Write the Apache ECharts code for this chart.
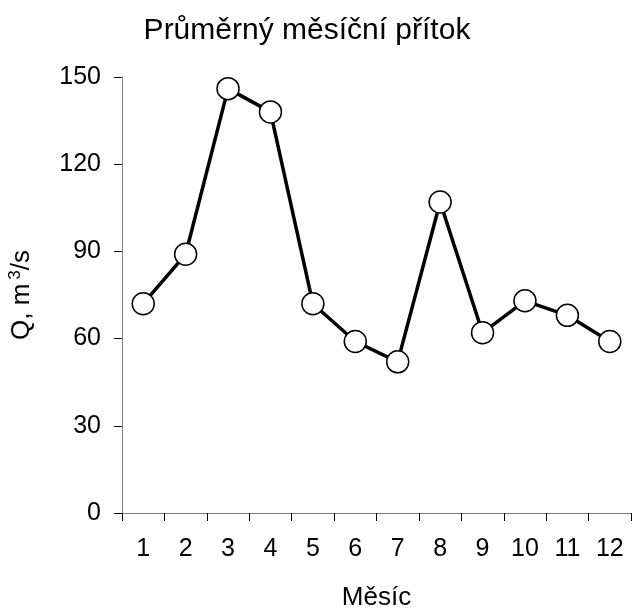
<!DOCTYPE html>
<html>
<head>
<meta charset="utf-8">
<script src="https://cdn.jsdelivr.net/npm/echarts@6/dist/echarts.min.js"></script>
<style>
  html, body { margin: 0; padding: 0; background: #fff; }
  #chart { width: 632px; height: 610px; }
</style>
</head>
<body>
<div id="chart"></div>
<script>
// data
const months = ['1', '2', '3', '4', '5', '6', '7', '8', '9', '10', '11', '12']
const inflow = [72, 89, 146, 138, 72, 59, 52, 107, 62, 73, 68, 59]

const chart = echarts.init(document.getElementById('chart'))
const font = 'Liberation Sans, Arial, sans-serif'

const option = {
  animation: false,
  title: {
    text: 'Průměrný měsíční přítok',
    left: 302,
    textAlign: 'center',
    top: 11,
    textStyle: {fontFamily: font, fontSize: 30, fontWeight: 'normal', color: '#000'}
  },
  grid: {left: 122, right: 1, top: 77, bottom: 97, outerBoundsMode: 'none'},
  xAxis: {
    type: 'category',
    data: months,
    boundaryGap: true,
    name: 'Měsíc',
    nameLocation: 'middle',
    nameGap: 72,
    nameTextStyle: {fontFamily: font, fontSize: 26, color: '#000'},
    axisLine: {lineStyle: {color: '#808080', width: 1}},
    axisTick: {show: true, alignWithLabel: false, length: 8, lineStyle: {color: '#000'}},
    axisLabel: {fontFamily: font, fontSize: 25, color: '#000', margin: 24}
  },
  yAxis: {
    type: 'value',
    min: 0,
    max: 150,
    interval: 30,
    name: 'Q, m{sup|3}/s',
    nameLocation: 'middle',
    nameGap: 86,
    nameRotate: 90,
    nameTextStyle: {
      fontFamily: font, fontSize: 26, color: '#000',
      rich: {sup: {fontFamily: font, fontSize: 17, color: '#000', verticalAlign: 'top', padding: [0, 0, 12, 4]}}
    },
    axisLine: {show: true, lineStyle: {color: '#808080', width: 1}},
    axisTick: {show: true, length: 8, lineStyle: {color: '#000'}},
    axisLabel: {fontFamily: font, fontSize: 25, color: '#000', margin: 21},
    splitLine: {show: false}
  },
  series: [
    {
      type: 'line',
      data: inflow,
      symbol: 'circle',
      symbolSize: 22,
      lineStyle: {color: '#000', width: 3.5},
      itemStyle: {color: '#fff', borderColor: '#000', borderWidth: 1.5}
    }
  ]
}
chart.setOption(option)
</script>
</body>
</html>
